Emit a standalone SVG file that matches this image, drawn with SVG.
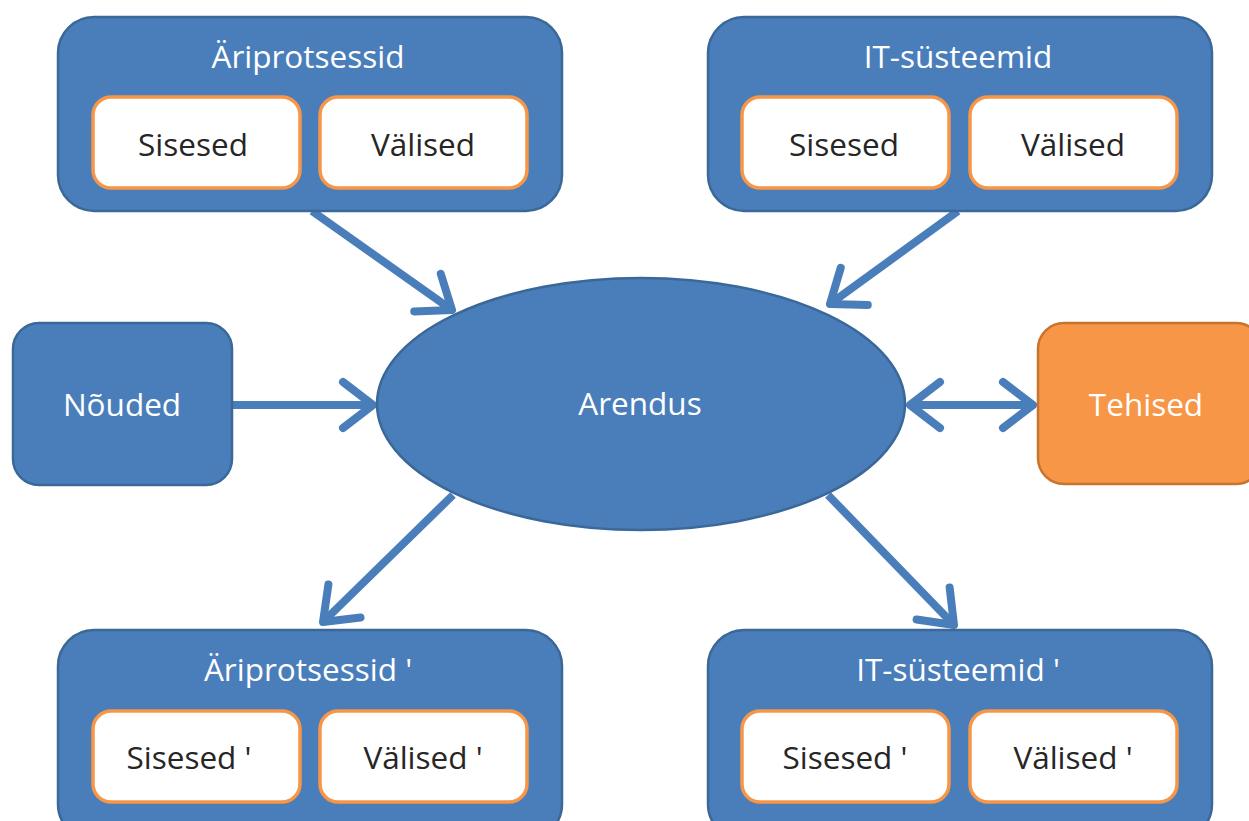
<svg xmlns="http://www.w3.org/2000/svg" width="1249" height="821" viewBox="0 0 1249 821">
<defs>
<style>
.box{fill:#4A7EBB;stroke:#3A6898;stroke-width:2.5}
.inner{fill:#fff;stroke:#F79646;stroke-width:3.5}
.t{font-family:"Open Sans","Liberation Sans",Arial,sans-serif;font-size:31.5px;text-anchor:middle}
.w{fill:#fff}
.k{fill:#262626}
.c{fill:none;stroke:#4A7EBB;stroke-width:8}
</style>
<marker id="ah" markerUnits="userSpaceOnUse" markerWidth="60" markerHeight="60" viewBox="-40 -30 50 60" refX="0" refY="0" orient="auto-start-reverse">
<path d="M-30,-23 L0,0 L-30,23" fill="none" stroke="#4A7EBB" stroke-width="8" stroke-linecap="round" stroke-linejoin="round"/>
</marker>
</defs>
<rect width="1249" height="821" fill="#fff"/>
<g id="connectors">
<line class="c" x1="312" y1="211" x2="452" y2="310" marker-end="url(#ah)"/>
<line class="c" x1="958" y1="211" x2="830" y2="304" marker-end="url(#ah)"/>
<line class="c" x1="233" y1="405" x2="373" y2="405" marker-end="url(#ah)"/>
<line class="c" x1="910" y1="405" x2="1033" y2="405" marker-start="url(#ah)" marker-end="url(#ah)"/>
<line class="c" x1="453" y1="495" x2="323" y2="622" marker-end="url(#ah)"/>
<line class="c" x1="828" y1="495" x2="954" y2="625" marker-end="url(#ah)"/>
</g>
<g id="ariprotsessid">
<rect class="box" x="58" y="17" width="504" height="194" rx="36"/>
<text class="t w" x="308" y="68">Äriprotsessid</text>
<rect class="inner" x="93" y="97" width="207" height="91" rx="18"/>
<text class="t k" x="193" y="156">Sisesed</text>
<rect class="inner" x="320" y="97" width="207" height="91" rx="18"/>
<text class="t k" x="423" y="156">Välised</text>
</g>
<g id="it-systeemid">
<rect class="box" x="708" y="17" width="504" height="194" rx="36"/>
<text class="t w" x="958" y="68">IT-süsteemid</text>
<rect class="inner" x="742" y="97" width="207" height="91" rx="18"/>
<text class="t k" x="844" y="156">Sisesed</text>
<rect class="inner" x="970" y="97" width="207" height="91" rx="18"/>
<text class="t k" x="1073" y="156">Välised</text>
</g>
<g id="nouded">
<rect class="box" x="13" y="323" width="219" height="162" rx="26"/>
<text class="t w" x="122" y="416">Nõuded</text>
</g>
<g id="arendus">
<ellipse class="box" cx="641" cy="404" rx="264" ry="126"/>
<text class="t w" x="640" y="415">Arendus</text>
</g>
<g id="tehised">
<rect x="1038" y="323" width="224" height="161" rx="26" fill="#F79646" stroke="#C7742E" stroke-width="2.5"/>
<text class="t w" x="1146" y="416">Tehised</text>
</g>
<g id="ariprotsessid2">
<rect class="box" x="58" y="630" width="504" height="210" rx="36"/>
<text class="t w" x="308" y="681">Äriprotsessid '</text>
<rect class="inner" x="93" y="711" width="207" height="91" rx="18"/>
<text class="t k" x="189" y="769">Sisesed '</text>
<rect class="inner" x="320" y="711" width="207" height="91" rx="18"/>
<text class="t k" x="423" y="769">Välised '</text>
</g>
<g id="it-systeemid2">
<rect class="box" x="708" y="630" width="504" height="210" rx="36"/>
<text class="t w" x="958" y="681">IT-süsteemid '</text>
<rect class="inner" x="742" y="711" width="207" height="91" rx="18"/>
<text class="t k" x="845" y="769">Sisesed '</text>
<rect class="inner" x="970" y="711" width="207" height="91" rx="18"/>
<text class="t k" x="1073" y="769">Välised '</text>
</g>
</svg>
